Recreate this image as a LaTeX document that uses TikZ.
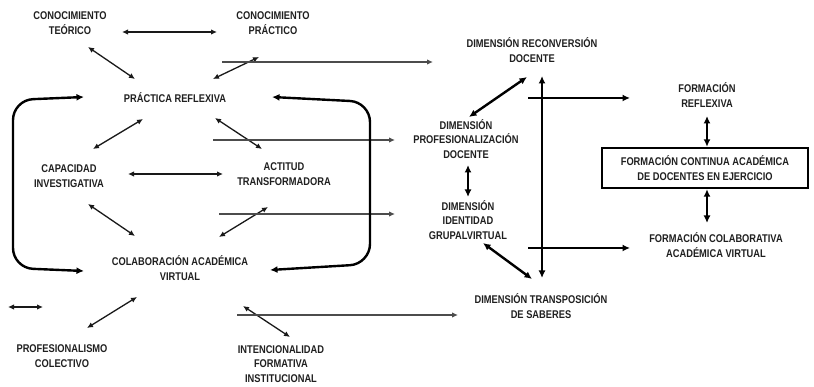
\documentclass[tikz,border=0pt]{standalone}
\usepackage{fontspec}
\setmainfont{Liberation Sans}[FakeStretch=0.83]
\usetikzlibrary{arrows.meta}
\begin{document}
\begin{tikzpicture}[x=1pt,y=-1pt,
  lbl/.style={align=center,inner sep=0pt,font=\bfseries\fontsize{11.2}{14.5}\selectfont,text=black!88},
  tarr/.style={line width=1.3pt,black!90,{Latex[length=6pt,width=5.5pt]}-{Latex[length=6pt,width=5.5pt]}},
  tone/.style={line width=1.2pt,black!70,-{Latex[length=6pt,width=5.5pt]}},
  karr/.style={line width=2.4pt,{Latex[length=7.5pt,width=7pt]}-{Latex[length=7.5pt,width=7pt]}},
  kone/.style={line width=2.4pt,-{Latex[length=7.5pt,width=7pt]}},
  brk/.style={line width=2.4pt,rounded corners=20pt,{Latex[length=7.5pt,width=7pt]}-{Latex[length=7.5pt,width=7pt]}},
  frame/.style={draw,line width=2.4pt,minimum width=206pt,minimum height=40pt,inner sep=0pt}
]
\useasboundingbox (0,0) rectangle (814,387);

% --- left block nodes
\node[lbl] (ct)  at (70,23)   {CONOCIMIENTO\\TEÓRICO};
\node[lbl] (cp)  at (273,23)  {CONOCIMIENTO\\PRÁCTICO};
\node[lbl] (pr)  at (175,98)  {PRÁCTICA REFLEXIVA};
\node[lbl] (ci)  at (69,176)  {CAPACIDAD\\INVESTIGATIVA};
\node[lbl] (at)  at (284,174) {ACTITUD\\TRANSFORMADORA};
\node[lbl] (cav) at (180,268) {COLABORACIÓN ACADÉMICA\\VIRTUAL};
\node[lbl] (pc)  at (62,356)  {PROFESIONALISMO\\COLECTIVO};
\node[lbl] (ifi) at (281,364) {INTENCIONALIDAD\\FORMATIVA\\INSTITUCIONAL};

% --- middle nodes
\node[lbl] (drd) at (532,50)  {DIMENSIÓN RECONVERSIÓN\\DOCENTE};
\node[lbl] (dpd) at (466,139) {DIMENSIÓN\\PROFESIONALIZACIÓN\\DOCENTE};
\node[lbl] (dig) at (468,220) {DIMENSIÓN\\IDENTIDAD\\GRUPALVIRTUAL};
\node[lbl] (dts) at (541,306) {DIMENSIÓN TRANSPOSICIÓN\\DE SABERES};

% --- right nodes
\node[lbl] (fr)   at (707,95)  {FORMACIÓN\\REFLEXIVA};
\node[frame,lbl] (fca) at (705,168) {FORMACIÓN CONTINUA ACADÉMICA\\DE DOCENTES EN EJERCICIO};
\node[lbl] (fcav) at (716,245) {FORMACIÓN COLABORATIVA\\ACADÉMICA VIRTUAL};

% --- connector end coordinates
\coordinate (ctR) at (122,32);  \coordinate (cpL) at (217,32);
\coordinate (ctB) at (88,47);   \coordinate (prTL) at (135,79);
\coordinate (cpB) at (259,57);  \coordinate (prTR) at (213,79);
\coordinate (prBL) at (143,119); \coordinate (ciT) at (93,149);
\coordinate (prBR) at (215,118); \coordinate (atT) at (262,149);
\coordinate (ciR) at (128,174);  \coordinate (atL) at (223,174);
\coordinate (ciB) at (88,204);   \coordinate (cavTL) at (135,236);
\coordinate (atB) at (268,207);  \coordinate (cavTR) at (219,237);
\coordinate (cavBL) at (137,297); \coordinate (pcT) at (87,328);
\coordinate (cavBR) at (243,306); \coordinate (ifiT) at (290,337);
\coordinate (lsA) at (8,307);    \coordinate (lsB) at (43,307);

% long thin lines to the dimensions
\coordinate (h1) at (222,62);  \coordinate (h1e) at (433,62);
\coordinate (h2) at (213,140); \coordinate (h2e) at (395,140);
\coordinate (h3) at (219,214); \coordinate (h3e) at (395,214);
\coordinate (h4) at (237,315); \coordinate (h4e) at (458,315);

% --- thin arrows
\draw[tarr] (ctR) -- (cpL);
\draw[tarr] (ctB) -- (prTL);
\draw[tarr] (cpB) -- (prTR);
\draw[tarr] (prBL) -- (ciT);
\draw[tarr] (prBR) -- (atT);
\draw[tarr] (ciR) -- (atL);
\draw[tarr] (ciB) -- (cavTL);
\draw[tarr] (atB) -- (cavTR);
\draw[tarr] (cavBL) -- (pcT);
\draw[tarr] (cavBR) -- (ifiT);
\draw[tarr] (lsA) -- (lsB);

\draw[tone] (h1) -- (h1e);
\draw[tone] (h2) -- (h2e);
\draw[tone] (h3) -- (h3e);
\draw[tone] (h4) -- (h4e);

% --- brackets
\coordinate (lbT) at (84,97);  \coordinate (lbB) at (84,271);
\coordinate (rbT) at (272,97); \coordinate (rbB) at (270,270);
\draw[brk] (lbT) -- (13,100) -- (13,268) -- (lbB);
\draw[brk] (rbT) -- (370,102) -- (370,264) -- (rbB);

% --- thick arrows, middle
\coordinate (drdB) at (527,77);  \coordinate (dpdT) at (469,117);
\coordinate (dpdB) at (468,165); \coordinate (digT) at (468,197);
\coordinate (digB) at (483,243); \coordinate (dtsT) at (532,279);
\coordinate (vT) at (542,76);    \coordinate (vB) at (542,278);
\coordinate (a1) at (528,98);    \coordinate (a1e) at (630,98);
\coordinate (a2) at (528,248);   \coordinate (a2e) at (630,248);
\draw[karr] (drdB) -- (dpdT);
\draw[karr] (dpdB) -- (digT);
\draw[karr] (digB) -- (dtsT);
\draw[karr] (vT) -- (vB);
\draw[kone] (a1) -- (a1e);
\draw[kone] (a2) -- (a2e);

% --- right side
\coordinate (frB) at (707,116);
\coordinate (fcavT) at (707,223);
\draw[karr] (frB) -- (fca.north -| frB);
\draw[karr] (fca.south -| fcavT) -- (fcavT);
\end{tikzpicture}
\end{document}
